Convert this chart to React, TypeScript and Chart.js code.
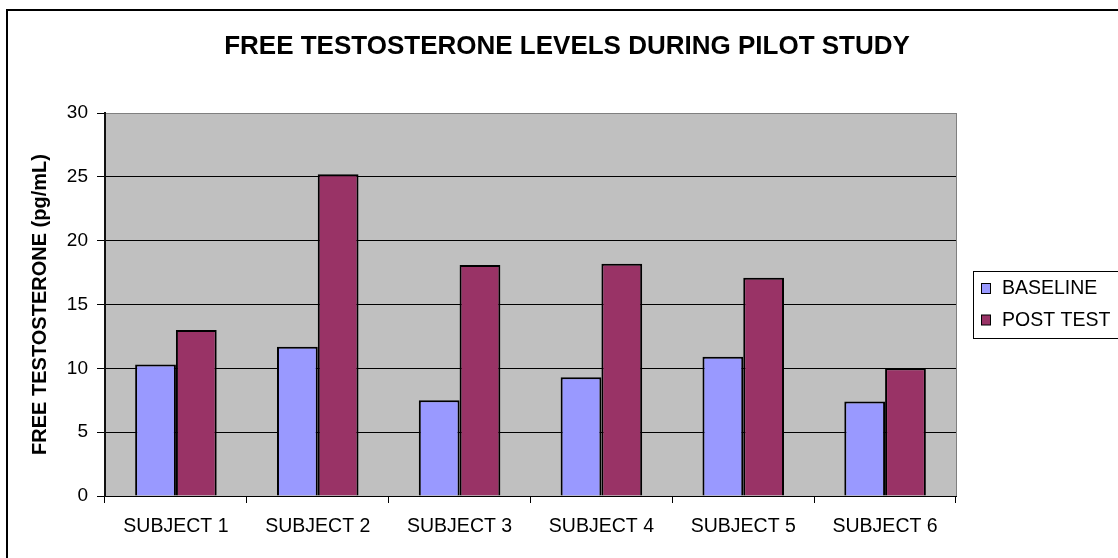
import { useEffect, useRef } from 'react';
import { Chart, registerables } from 'chart.js';

Chart.register(...registerables);

const TITLE = 'FREE TESTOSTERONE LEVELS DURING PILOT STUDY';
const Y_TITLE = 'FREE TESTOSTERONE (pg/mL)';
const CATEGORIES = ['SUBJECT 1', 'SUBJECT 2', 'SUBJECT 3', 'SUBJECT 4', 'SUBJECT 5', 'SUBJECT 6'];
const SERIES_LABELS = ['BASELINE', 'POST TEST'];
const BASELINE = [10.3, 11.7, 7.5, 9.3, 10.9, 7.4];
const POST_TEST = [13.0, 25.2, 18.1, 18.2, 17.1, 10.0];
const Y_TICKS = [0, 5, 10, 15, 20, 25, 30];
const COLORS = ['#9999FF', '#993366'];
const FONT = '"Liberation Sans", Arial, sans-serif';

const framePlugin = {
  id: 'excelFrame',
  beforeDraw(chart: any) {
    const { ctx, chartArea } = chart;
    const { left, top, right, bottom } = chartArea;
    ctx.save();
    ctx.fillStyle = '#FFFFFF';
    ctx.fillRect(0, 0, chart.width, chart.height);
    ctx.fillStyle = '#C0C0C0';
    ctx.fillRect(left, top, right - left, bottom - top);
    ctx.strokeStyle = '#808080';
    ctx.lineWidth = 1;
    ctx.beginPath();
    ctx.moveTo(right + 0.5, top);
    ctx.lineTo(right + 0.5, bottom);
    ctx.stroke();
    ctx.restore();
  },
  afterDraw(chart: any) {
    const { ctx } = chart;
    ctx.save();
    // outer chart border (extends beyond the visible area)
    ctx.strokeStyle = '#000';
    ctx.lineWidth = 2;
    ctx.strokeRect(7, 10, 1400, 900);
    // title
    ctx.fillStyle = '#000';
    ctx.font = `bold 26px ${FONT}`;
    ctx.textAlign = 'center';
    ctx.textBaseline = 'alphabetic';
    ctx.fillText(TITLE, 567, 54);
    // legend
    ctx.lineWidth = 1;
    ctx.strokeStyle = '#000';
    ctx.fillStyle = '#FFFFFF';
    ctx.fillRect(973.5, 271.5, 300, 67);
    ctx.strokeRect(973.5, 271.5, 300, 67);
    ctx.font = `19.5px ${FONT}`;
    ctx.textAlign = 'left';
    chart.data.datasets.forEach((ds: any, i: number) => {
      const base = 294 + i * 31.5;
      ctx.fillStyle = ds.backgroundColor;
      ctx.fillRect(981.5, base - 10.5, 9, 10);
      ctx.strokeRect(981.5, base - 10.5, 9, 10);
      ctx.fillStyle = '#000';
      ctx.fillText(ds.label, 1002, base);
    });
    ctx.restore();
  },
};

export default function App() {
  const ref = useRef<HTMLCanvasElement | null>(null);

  useEffect(() => {
    if (!ref.current) return;
    const chart = new Chart(ref.current, {
      type: 'bar',
      data: {
        labels: CATEGORIES,
        datasets: [
          {
            label: SERIES_LABELS[0],
            data: BASELINE,
            backgroundColor: COLORS[0],
            borderColor: '#000',
            borderWidth: 2,
            categoryPercentage: 0.575,
            barPercentage: 1,
          },
          {
            label: SERIES_LABELS[1],
            data: POST_TEST,
            backgroundColor: COLORS[1],
            borderColor: '#000',
            borderWidth: 2,
            categoryPercentage: 0.575,
            barPercentage: 1,
          },
        ],
      },
      options: {
        responsive: false,
        animation: false,
        devicePixelRatio: 1,
        events: [],
        layout: { padding: { left: 0, top: 113, right: 162, bottom: 12 } },
        plugins: {
          legend: { display: false },
          title: { display: false },
          tooltip: { enabled: false },
        },
        scales: {
          x: {
            grid: { drawOnChartArea: false, drawTicks: true, tickLength: 7, color: '#000', offset: true },
            border: { display: true, color: '#000', width: 1 },
            ticks: {
              color: '#000',
              font: { family: FONT, size: 19.5 },
              padding: 12,
              maxRotation: 0,
              autoSkip: false,
            },
            afterFit: (s: any) => {
              s.height = 50;
            },
          },
          y: {
            min: 0,
            max: 30,
            afterBuildTicks: (s: any) => {
              s.ticks = Y_TICKS.map((v) => ({ value: v }));
            },
            ticks: {
              color: '#000',
              font: { family: FONT, size: 19 },
              padding: 9,
            },
            grid: {
              color: (c: any) => (c.tick && c.tick.value === 30 ? '#808080' : '#000'),
              tickColor: '#000',
              tickLength: 8,
              lineWidth: 1,
            },
            border: { color: '#111', width: 2 },
            title: {
              display: true,
              text: Y_TITLE,
              color: '#000',
              font: { family: FONT, size: 20, weight: 'bold' },
              padding: { top: 28, bottom: 0 },
            },
            afterFit: (s: any) => {
              s.width = 105;
            },
          },
        },
      },
      plugins: [framePlugin],
    });
    return () => chart.destroy();
  }, []);

  return (
    <div style={{ position: 'fixed', left: 0, top: 0, width: 1118, height: 558 }}>
      <canvas ref={ref} width={1118} height={558} />
    </div>
  );
}
